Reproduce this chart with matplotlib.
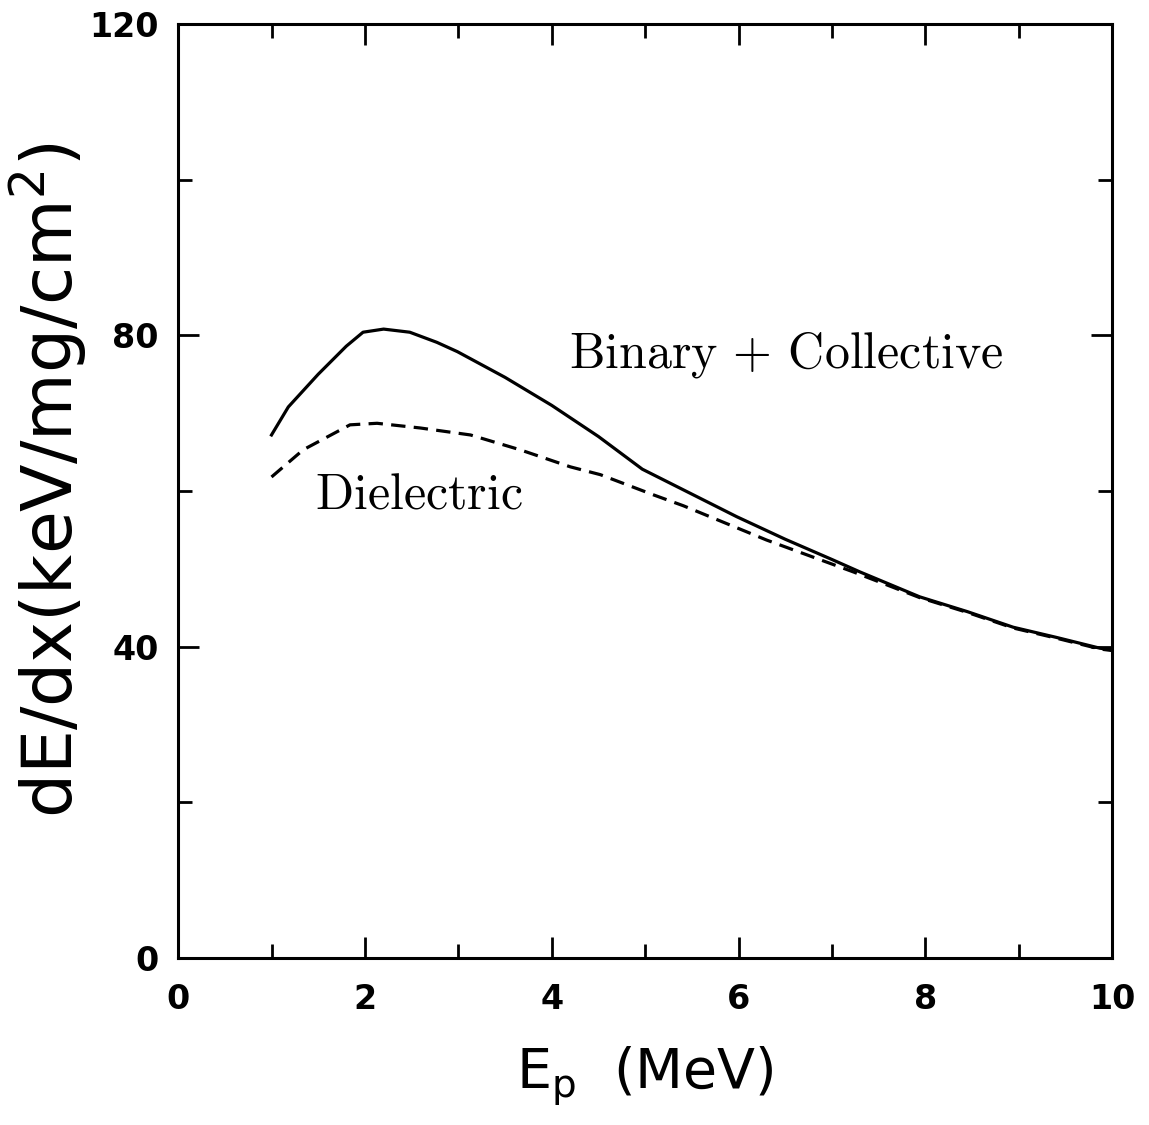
import matplotlib
matplotlib.use("Agg")
import matplotlib.pyplot as plt
from matplotlib.ticker import MultipleLocator

# Binary + Collective (solid)
e_solid = [1.0, 1.18, 1.5, 1.8, 1.98, 2.2, 2.48, 2.77, 2.99, 3.5, 4.0, 4.5, 4.97, 5.5, 5.98, 6.5, 7.0, 7.3, 7.94, 8.45, 8.94, 9.4, 9.87, 10.0]
de_solid = [67.2, 70.8, 75.0, 78.6, 80.4, 80.8, 80.4, 79.1, 77.9, 74.6, 71.0, 67.0, 62.8, 59.6, 56.7, 53.8, 51.2, 49.6, 46.4, 44.5, 42.5, 41.2, 39.8, 39.6]

# Dielectric (dashed)
e_dash = [1.0, 1.34, 1.84, 2.13, 2.59, 3.13, 3.66, 4.2, 4.52, 5.09, 5.41, 6.3, 7.23, 7.94, 8.45, 8.94, 9.4, 9.87, 10.0]
de_dash = [61.8, 65.3, 68.5, 68.7, 68.1, 67.2, 65.3, 63.1, 62.1, 59.5, 58.1, 53.7, 49.6, 46.3, 44.4, 42.4, 41.1, 39.7, 39.5]

xticks = [0, 2, 4, 6, 8, 10]
yticks = [0, 40, 80, 120]

fig = plt.figure(figsize=(11.49, 11.25), dpi=100)
ax = fig.add_axes([0.155, 0.1484, 0.813, 0.8303])

ax.plot(e_solid, de_solid, color="black", lw=2.3, solid_joinstyle="round")
ax.plot(e_dash, de_dash, color="black", lw=2.3, dashes=(4.5, 2.6))

ax.set_xlim(0, 10)
ax.set_ylim(0, 120)
ax.set_xticks(xticks)
ax.set_yticks(yticks)
ax.xaxis.set_minor_locator(MultipleLocator(1))
ax.yaxis.set_minor_locator(MultipleLocator(20))
ax.tick_params(which="both", direction="in", top=True, right=True, width=2)
ax.tick_params(which="major", length=15, pad=14)
ax.tick_params(axis="x", which="major", pad=18)
ax.tick_params(which="minor", length=10)
for lab in ax.get_xticklabels() + ax.get_yticklabels():
    lab.set_fontsize(24)
    lab.set_fontweight("bold")
for s in ax.spines.values():
    s.set_linewidth(2.2)

ax.text(4.18, 77.5, r"$\mathrm{Binary}\,+\,\mathrm{Collective}$", fontsize=36,
        va="center", ha="left", math_fontfamily="cm")
ax.text(1.47, 59.5, r"$\mathrm{Dielectric}$", fontsize=36,
        va="center", ha="left", math_fontfamily="cm")

fig.text(0.042, 0.573, r"dE/dx(keV/mg/cm$^2$)", rotation=90, fontsize=50,
         ha="center", va="center", math_fontfamily="dejavusans")
fig.text(0.561, 0.044, r"E$_\mathrm{p}$  (MeV)", fontsize=40,
         ha="center", va="center", math_fontfamily="dejavusans")

fig.savefig("out.png", dpi=100)
